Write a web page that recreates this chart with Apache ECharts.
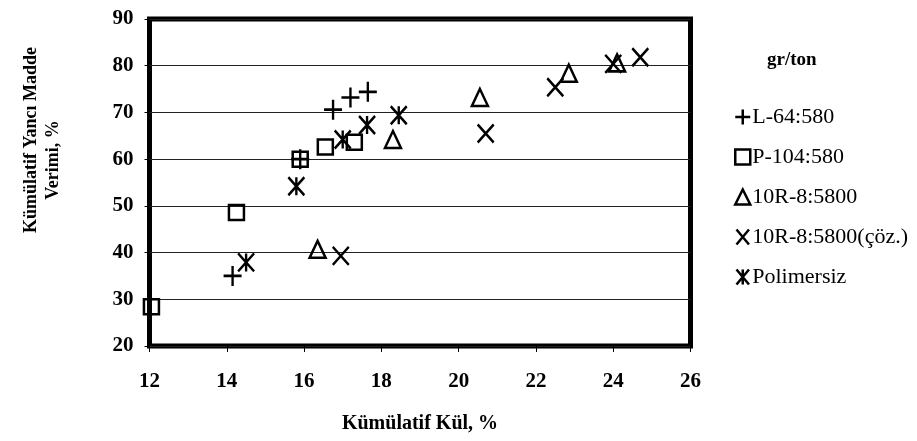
<!DOCTYPE html>
<html>
<head>
<meta charset="utf-8">
<script src="https://cdn.jsdelivr.net/npm/echarts@6/dist/echarts.min.js"></script>
<style>html,body{margin:0;padding:0;background:#fff}#c{width:917px;height:441px}</style>
</head>
<body>
<div id="c"></div>
<script>
// Data: [Kümülatif Kül %, Kümülatif Yancı Madde Verimi %]
const seriesNames = ['L-64:580', 'P-104:580', '10R-8:5800', '10R-8:5800(çöz.)', 'Polimersiz'];
const l64 = [[14.15, 35.0], [15.9, 60.0], [16.75, 70.6], [17.2, 73.2], [17.65, 74.4]];
const p104 = [[12.05, 28.4], [14.25, 48.6], [15.9, 60.0], [16.55, 62.6], [17.3, 63.6]];
const r10 = [[16.35, 40.7], [18.3, 64.2], [20.55, 73.2], [22.85, 78.4], [24.1, 80.6]];
const r10coz = [[16.95, 39.3], [20.7, 65.5], [22.5, 75.4], [24.0, 80.4], [24.7, 81.8]];
const polimersiz = [[14.5, 37.9], [15.8, 54.2], [17.0, 64.2], [17.63, 67.3], [18.45, 69.4]];
const xTicks = [12, 14, 16, 18, 20, 22, 24, 26];
const yTicks = [20, 30, 40, 50, 60, 70, 80, 90];

const FONT = 'Liberation Serif';
const symbols = [
  'path://M5,0 L5,10 M0,5 L10,5',
  'rect',
  'triangle',
  'path://M0,0 L10,12 M10,0 L0,12',
  'path://M0,0 L10,12 M10,0 L0,12 M5,0 L5,12'
];
const sizes = [[18, 20], 15, [16, 17], [16, 18], [16, 18]];
const datasets = [l64, p104, r10, r10coz, polimersiz];

const chart = echarts.init(document.getElementById('c'), null, {renderer: 'canvas'});
const series = datasets.map((d, i) => ({
  name: seriesNames[i],
  type: 'scatter',
  data: d,
  symbol: symbols[i],
  symbolSize: sizes[i],
  itemStyle: {color: 'rgba(0,0,0,0)', borderColor: '#000', borderWidth: 2.5, opacity: 1},
  emphasis: {disabled: true},
  z: 5
}));

chart.setOption({
  animation: false,
  backgroundColor: '#fff',
  grid: {left: 149.5, right: 226.5, top: 19, bottom: 95, show: true,
         borderColor: '#000', borderWidth: 5, backgroundColor: 'transparent', containLabel: false},
  xAxis: {
    type: 'value', min: xTicks[0], max: xTicks[xTicks.length - 1], interval: 2,
    axisLine: {show: false},
    axisTick: {show: true, length: 6, lineStyle: {color: '#000', width: 1}},
    splitLine: {show: false},
    axisLabel: {fontFamily: FONT, fontWeight: 'bold', fontSize: 21, color: '#000', margin: 25},
    name: 'Kümülatif Kül, %', nameLocation: 'middle', nameGap: 68,
    nameTextStyle: {fontFamily: FONT, fontWeight: 'bold', fontSize: 20, color: '#000'}
  },
  yAxis: {
    type: 'value', min: yTicks[0], max: yTicks[yTicks.length - 1], interval: 10,
    axisLine: {show: false},
    axisTick: {show: true, length: 5, lineStyle: {color: '#000', width: 1}},
    splitLine: {show: true, lineStyle: {color: '#222', width: 1}},
    axisLabel: {fontFamily: FONT, fontWeight: 'bold', fontSize: 21, color: '#000', margin: 16}
  },
  legend: {
    orient: 'vertical', left: 729, top: 101,
    itemWidth: 15, itemHeight: 15, itemGap: 18,
    data: seriesNames,
    textStyle: {fontFamily: FONT, fontSize: 22, color: '#000', padding: [0, 0, 0, -3]},
    itemStyle: {color: 'rgba(0,0,0,0)', borderColor: '#000', borderWidth: 2.5},
    selectedMode: false
  },
  graphic: [
    {type: 'text', left: 767, top: 51,
     style: {text: 'gr/ton', font: 'bold 19px "Liberation Serif"', fill: '#000'}},
    {type: 'text', x: 31, y: 140, rotation: Math.PI / 2,
     style: {text: 'Kümülatif Yancı Madde', font: 'bold 18px "Liberation Serif"', fill: '#000',
             align: 'center', verticalAlign: 'middle'}},
    {type: 'text', x: 53, y: 160, rotation: Math.PI / 2,
     style: {text: 'Verimi, %', font: 'bold 18px "Liberation Serif"', fill: '#000',
             align: 'center', verticalAlign: 'middle'}}
  ],
  series: series
});
</script>
</body>
</html>
